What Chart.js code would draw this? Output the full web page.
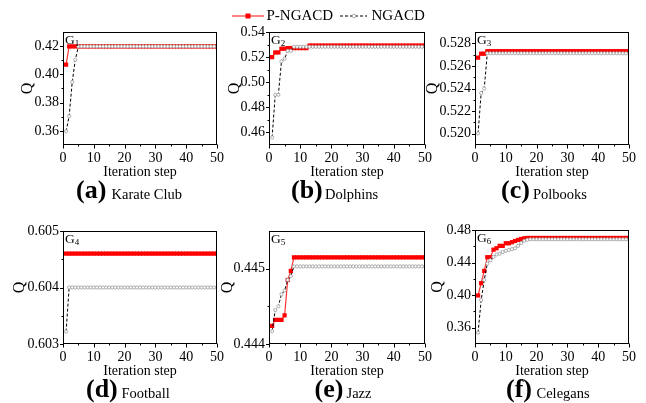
<!DOCTYPE html>
<html><head><meta charset="utf-8">
<script src="https://cdn.jsdelivr.net/npm/chart.js@4/dist/chart.umd.min.js"></script>
<style>
html,body{margin:0;padding:0;background:#fff;}
#wrap{position:relative;width:646px;height:403px;overflow:hidden;font-family:"Liberation Serif","Times New Roman",serif;color:#000;}
canvas{position:absolute;left:0;top:0;}
.t{position:absolute;white-space:nowrap;line-height:1;}
.b{font-weight:bold;font-size:26px;}
.s{font-size:14.5px;}
.lg{font-size:15px;}
</style>
</head><body>
<div id="wrap">
<canvas id="c0" width="646" height="403"></canvas>
<canvas id="c1" width="646" height="403"></canvas>
<canvas id="c2" width="646" height="403"></canvas>
<canvas id="c3" width="646" height="403"></canvas>
<canvas id="c4" width="646" height="403"></canvas>
<canvas id="c5" width="646" height="403"></canvas>
<svg style="position:absolute;left:0;top:0" width="646" height="30">
 <line x1="232" y1="16" x2="264" y2="16" stroke="#f33" stroke-width="1.2"/>
 <rect x="245.5" y="13.5" width="5" height="5" fill="#f00"/>
 <line x1="340" y1="16" x2="367" y2="16" stroke="#000" stroke-width="1" stroke-dasharray="3,2"/>
 <circle cx="354" cy="16" r="1.8" fill="#fff" stroke="#999" stroke-width="0.8"/>
</svg>
<span class="t lg" id="lg0" style="left:266.5px;top:8px;">P-NGACD</span>
<span class="t lg" id="lg1" style="left:371.5px;top:8px;">NGACD</span>
</div>
<script>
// ---------------- DATA ----------------
const steps = [1,2,3,4,5,6,7,8,9,10,11,12,13,14,15,16,17,18,19,20,21,22,23,24,25,26,27,28,29,30,31,32,33,34,35,36,37,38,39,40,41,42,43,44,45,46,47,48,49,50];
const seriesNames = ['P-NGACD','NGACD'];
const xTicks = [0,10,20,30,40,50];
const xMinor = [5,15,25,35,45];
const xTitle = 'Iteration step';
const yTitle = 'Q';

const karateP = [0.4069,0.4198,0.4198,0.4198,0.4198,0.4198,0.4198,0.4198,0.4198,0.4198,
 0.4198,0.4198,0.4198,0.4198,0.4198,0.4198,0.4198,0.4198,0.4198,0.4198,
 0.4198,0.4198,0.4198,0.4198,0.4198,0.4198,0.4198,0.4198,0.4198,0.4198,
 0.4198,0.4198,0.4198,0.4198,0.4198,0.4198,0.4198,0.4198,0.4198,0.4198,
 0.4198,0.4198,0.4198,0.4198,0.4198,0.4198,0.4198,0.4198,0.4198,0.4198];
const karateN = [0.3597,0.3703,0.3947,0.4104,0.4198,0.4198,0.4198,0.4198,0.4198,0.4198,
 0.4198,0.4198,0.4198,0.4198,0.4198,0.4198,0.4198,0.4198,0.4198,0.4198,
 0.4198,0.4198,0.4198,0.4198,0.4198,0.4198,0.4198,0.4198,0.4198,0.4198,
 0.4198,0.4198,0.4198,0.4198,0.4198,0.4198,0.4198,0.4198,0.4198,0.4198,
 0.4198,0.4198,0.4198,0.4198,0.4198,0.4198,0.4198,0.4198,0.4198,0.4198];

const dolphinsP = [0.5200,0.5237,0.5237,0.5267,0.5267,0.5272,0.5272,0.5272,0.5272,0.5272,
 0.5272,0.5272,0.5292,0.5292,0.5292,0.5292,0.5292,0.5292,0.5292,0.5292,
 0.5292,0.5292,0.5292,0.5292,0.5292,0.5292,0.5292,0.5292,0.5292,0.5292,
 0.5292,0.5292,0.5292,0.5292,0.5292,0.5292,0.5292,0.5292,0.5292,0.5292,
 0.5292,0.5292,0.5292,0.5292,0.5292,0.5292,0.5292,0.5292,0.5292,0.5292];
const dolphinsN = [0.4560,0.4900,0.4900,0.5166,0.5188,0.5250,0.5250,0.5282,0.5282,0.5282,
 0.5282,0.5282,0.5282,0.5282,0.5282,0.5282,0.5282,0.5282,0.5282,0.5282,
 0.5282,0.5282,0.5282,0.5282,0.5282,0.5282,0.5282,0.5282,0.5282,0.5282,
 0.5282,0.5282,0.5282,0.5282,0.5282,0.5282,0.5282,0.5282,0.5282,0.5282,
 0.5282,0.5282,0.5282,0.5282,0.5282,0.5282,0.5282,0.5282,0.5282,0.5282];

const polbooksP = [0.52673,0.52708,0.52708,0.52730,0.52730,0.52730,0.52730,0.52730,0.52730,0.52730,
 0.52730,0.52730,0.52730,0.52730,0.52730,0.52730,0.52730,0.52730,0.52730,0.52730,
 0.52730,0.52730,0.52730,0.52730,0.52730,0.52730,0.52730,0.52730,0.52730,0.52730,
 0.52730,0.52730,0.52730,0.52730,0.52730,0.52730,0.52730,0.52730,0.52730,0.52730,
 0.52730,0.52730,0.52730,0.52730,0.52730,0.52730,0.52730,0.52730,0.52730,0.52730];
const polbooksN = [0.52003,0.52360,0.52400,0.52712,0.52712,0.52712,0.52712,0.52712,0.52712,0.52712,
 0.52712,0.52712,0.52712,0.52712,0.52712,0.52712,0.52712,0.52712,0.52712,0.52712,
 0.52712,0.52712,0.52712,0.52712,0.52712,0.52712,0.52712,0.52712,0.52712,0.52712,
 0.52712,0.52712,0.52712,0.52712,0.52712,0.52712,0.52712,0.52712,0.52712,0.52712,
 0.52712,0.52712,0.52712,0.52712,0.52712,0.52712,0.52712,0.52712,0.52712,0.52712];

const footballP = [0.6046,0.6046,0.6046,0.6046,0.6046,0.6046,0.6046,0.6046,0.6046,0.6046,
 0.6046,0.6046,0.6046,0.6046,0.6046,0.6046,0.6046,0.6046,0.6046,0.6046,
 0.6046,0.6046,0.6046,0.6046,0.6046,0.6046,0.6046,0.6046,0.6046,0.6046,
 0.6046,0.6046,0.6046,0.6046,0.6046,0.6046,0.6046,0.6046,0.6046,0.6046,
 0.6046,0.6046,0.6046,0.6046,0.6046,0.6046,0.6046,0.6046,0.6046,0.6046];
const footballN = [0.60322,0.6040,0.6040,0.6040,0.6040,0.6040,0.6040,0.6040,0.6040,0.6040,
 0.6040,0.6040,0.6040,0.6040,0.6040,0.6040,0.6040,0.6040,0.6040,0.6040,
 0.6040,0.6040,0.6040,0.6040,0.6040,0.6040,0.6040,0.6040,0.6040,0.6040,
 0.6040,0.6040,0.6040,0.6040,0.6040,0.6040,0.6040,0.6040,0.6040,0.6040,
 0.6040,0.6040,0.6040,0.6040,0.6040,0.6040,0.6040,0.6040,0.6040,0.6040];

const jazzP = [0.44424,0.44432,0.44432,0.44432,0.44438,0.44485,0.44497,0.44515,0.44515,0.44515,
 0.44515,0.44515,0.44515,0.44515,0.44515,0.44515,0.44515,0.44515,0.44515,0.44515,
 0.44515,0.44515,0.44515,0.44515,0.44515,0.44515,0.44515,0.44515,0.44515,0.44515,
 0.44515,0.44515,0.44515,0.44515,0.44515,0.44515,0.44515,0.44515,0.44515,0.44515,
 0.44515,0.44515,0.44515,0.44515,0.44515,0.44515,0.44515,0.44515,0.44515,0.44515];
const jazzN = [0.44417,0.44445,0.44450,0.44466,0.44471,0.44485,0.44490,0.44503,0.44503,0.44503,
 0.44503,0.44503,0.44503,0.44503,0.44503,0.44503,0.44503,0.44503,0.44503,0.44503,
 0.44503,0.44503,0.44503,0.44503,0.44503,0.44503,0.44503,0.44503,0.44503,0.44503,
 0.44503,0.44503,0.44503,0.44503,0.44503,0.44503,0.44503,0.44503,0.44503,0.44503,
 0.44503,0.44503,0.44503,0.44503,0.44503,0.44503,0.44503,0.44503,0.44503,0.44503];

const celegansP = [0.3996,0.4147,0.4298,0.4466,0.4466,0.4558,0.4576,0.4605,0.4605,0.4637,
 0.4637,0.4650,0.4665,0.4678,0.4690,0.4698,0.4702,0.4702,0.4702,0.4702,
 0.4702,0.4702,0.4702,0.4702,0.4702,0.4702,0.4702,0.4702,0.4702,0.4702,
 0.4702,0.4702,0.4702,0.4702,0.4702,0.4702,0.4702,0.4702,0.4702,0.4702,
 0.4702,0.4702,0.4702,0.4702,0.4702,0.4702,0.4702,0.4702,0.4702,0.4702];
const celegansN = [0.3539,0.3939,0.4185,0.4388,0.4429,0.4470,0.4500,0.4508,0.4530,0.4545,
 0.4555,0.4565,0.4576,0.4605,0.4640,0.4668,0.4680,0.4686,0.4686,0.4686,
 0.4686,0.4686,0.4686,0.4686,0.4686,0.4686,0.4686,0.4686,0.4686,0.4686,
 0.4686,0.4686,0.4686,0.4686,0.4686,0.4686,0.4686,0.4686,0.4686,0.4686,
 0.4686,0.4686,0.4686,0.4686,0.4686,0.4686,0.4686,0.4686,0.4686,0.4686];

const yTicksKarate = [0.36,0.38,0.40,0.42];      const yMinorKarate = [0.37,0.39,0.41];
const yTicksDolphins = [0.46,0.48,0.50,0.52,0.54]; const yMinorDolphins = [0.47,0.49,0.51,0.53];
const yTicksPolbooks = [0.520,0.522,0.524,0.526,0.528]; const yMinorPolbooks = [0.521,0.523,0.525,0.527];
const yTicksFootball = [0.603,0.604,0.605];      const yMinorFootball = [0.6035,0.6045];
const yTicksJazz = [0.444,0.445];                const yMinorJazz = [0.4445];
const yTicksCelegans = [0.36,0.40,0.44,0.48];    const yMinorCelegans = [0.38,0.42,0.46];

const captionLetters = ['(a)','(b)','(c)','(d)','(e)','(f)'];
const captionNames = ['Karate Club','Dolphins','Polbooks','Football','Jazz','Celegans'];
const graphIds = ['1','2','3','4','5','6'];

// ---------------- LAYOUT / STYLE ----------------
const FONT = "'Liberation Serif','Times New Roman',serif";
Chart.defaults.font.family = FONT;
Chart.defaults.color = '#000';
const XH = 36;
const panels = [
 {p:karateP, n:karateN, yt:yTicksKarate, ym:yMinorKarate, min:0.35, max:0.43, dec:2, box:{l:63,r:217,t:32,b:145}, padL:18, cap:[76,111.5], base:199},
 {p:dolphinsP, n:dolphinsN, yt:yTicksDolphins, ym:yMinorDolphins, min:0.45, max:0.54, dec:2, box:{l:269,r:425,t:32,b:145}, padL:225, cap:[291,325], base:199},
 {p:polbooksP, n:polbooksN, yt:yTicksPolbooks, ym:yMinorPolbooks, min:0.519, max:0.529, dec:3, box:{l:475,r:629,t:32,b:145}, padL:423, cap:[501,533], base:199},
 {p:footballP, n:footballN, yt:yTicksFootball, ym:yMinorFootball, min:0.603, max:0.605, dec:3, box:{l:63,r:217,t:231,b:344}, padL:10, cap:[86,121.5], base:398},
 {p:jazzP, n:jazzN, yt:yTicksJazz, ym:yMinorJazz, min:0.444, max:0.4455, dec:3, box:{l:269,r:425,t:231,b:344}, padL:218, cap:[314.5,346.5], base:398},
 {p:celegansP, n:celegansN, yt:yTicksCelegans, ym:yMinorCelegans, min:0.34, max:0.48, dec:2, box:{l:475,r:629,t:230,b:344}, padL:428, cap:[506,536.5], base:398}
];

const framePlugin = {
  id:'frame',
  afterDraw(chart, args, opts){
    const ctx = chart.ctx, a = chart.chartArea;
    const xs = chart.scales.x, ys = chart.scales.y;
    ctx.save();
    ctx.strokeStyle = '#000'; ctx.lineWidth = 1;
    const L = Math.round(a.left)+0.5, R = Math.round(a.right)-0.5, T = Math.round(a.top)+0.5, B = Math.round(a.bottom)-0.5;
    ctx.strokeRect(L, T, R-L, B-T);
    ctx.beginPath();
    xTicks.forEach(v=>{const x=Math.round(xs.getPixelForValue(v))+0.5; ctx.moveTo(x,B); ctx.lineTo(x,B+4);});
    xMinor.forEach(v=>{const x=Math.round(xs.getPixelForValue(v))+0.5; ctx.moveTo(x,B); ctx.lineTo(x,B+2);});
    opts.yt.forEach(v=>{const y=Math.round(ys.getPixelForValue(v))+0.5; ctx.moveTo(L,y); ctx.lineTo(L-3.5,y);});
    opts.ym.forEach(v=>{const y=Math.round(ys.getPixelForValue(v))+0.5; ctx.moveTo(L,y); ctx.lineTo(L-2,y);});
    ctx.stroke();
    ctx.fillStyle = '#000';
    ctx.textBaseline = 'alphabetic'; ctx.textAlign = 'left';
    ctx.font = '13.5px ' + FONT;
    ctx.fillText('G', a.left + 2, a.top + 11.5);
    const w = ctx.measureText('G').width;
    ctx.font = '9px ' + FONT;
    ctx.fillText(opts.gid, a.left + 2 + w, a.top + 14);
    ctx.restore();
  }
};

const wrap = document.getElementById('wrap');
panels.forEach((pn, i) => {
  const ptsP = steps.map((s,k)=>({x:s, y:pn.p[k]}));
  const ptsN = steps.map((s,k)=>({x:s, y:pn.n[k]}));
  new Chart(document.getElementById('c'+i), {
    type:'line',
    data:{datasets:[
      {label:seriesNames[1], data:ptsN, borderColor:'#000', borderWidth:1, borderDash:[3,2],
       pointStyle:'circle', pointRadius:1.6, pointBorderColor:'#999', pointBackgroundColor:'#fff', pointBorderWidth:0.8, order:0, tension:0},
      {label:seriesNames[0], data:ptsP, borderColor:'#f33', borderWidth:1.2,
       pointStyle:'rect', pointRadius:3, pointBackgroundColor:'#f00', pointBorderColor:'#f00', pointBorderWidth:0, order:1, tension:0}
    ]},
    options:{
      responsive:false, animation:false, events:[],
      layout:{padding:{left:pn.padL, top:pn.box.t, right:646-pn.box.r, bottom:403-pn.box.b-XH}},
      plugins:{legend:{display:false}, tooltip:{enabled:false}, frame:{yt:pn.yt, ym:pn.ym, gid:graphIds[i]}},
      scales:{
        x:{type:'linear', min:0, max:50,
           afterBuildTicks:s=>{s.ticks = xTicks.map(v=>({value:v}));},
           afterFit:s=>{s.height = XH;},
           grid:{display:false, drawTicks:false}, border:{display:false},
           ticks:{padding:5, font:{size:14}, color:'#000', maxRotation:0, autoSkip:false},
           title:{display:true, text:xTitle, font:{size:14}, padding:0, color:'#000'}},
        y:{type:'linear', min:pn.min, max:pn.max,
           afterBuildTicks:s=>{s.ticks = pn.yt.map(v=>({value:v}));},
           afterFit:s=>{s.width = pn.box.l - pn.padL;},
           grid:{display:false, drawTicks:false}, border:{display:false},
           ticks:{padding:4, font:{size:14}, color:'#000', autoSkip:false, callback:v=>Number(v).toFixed(pn.dec)},
           title:{display:true, text:yTitle, font:{size:16}, padding:0, color:'#000'}}
      }
    },
    plugins:[framePlugin]
  });
  const a = document.createElement('span');
  a.className = 't b'; a.textContent = captionLetters[i];
  a.style.left = pn.cap[0]+'px'; a.style.top = (pn.base - 0.8375*26)+'px';
  wrap.appendChild(a);
  const b = document.createElement('span');
  b.className = 't s'; b.textContent = captionNames[i];
  b.style.left = pn.cap[1]+'px'; b.style.top = (pn.base - 0.8375*14.5)+'px';
  wrap.appendChild(b);
});
</script>
</body></html>
